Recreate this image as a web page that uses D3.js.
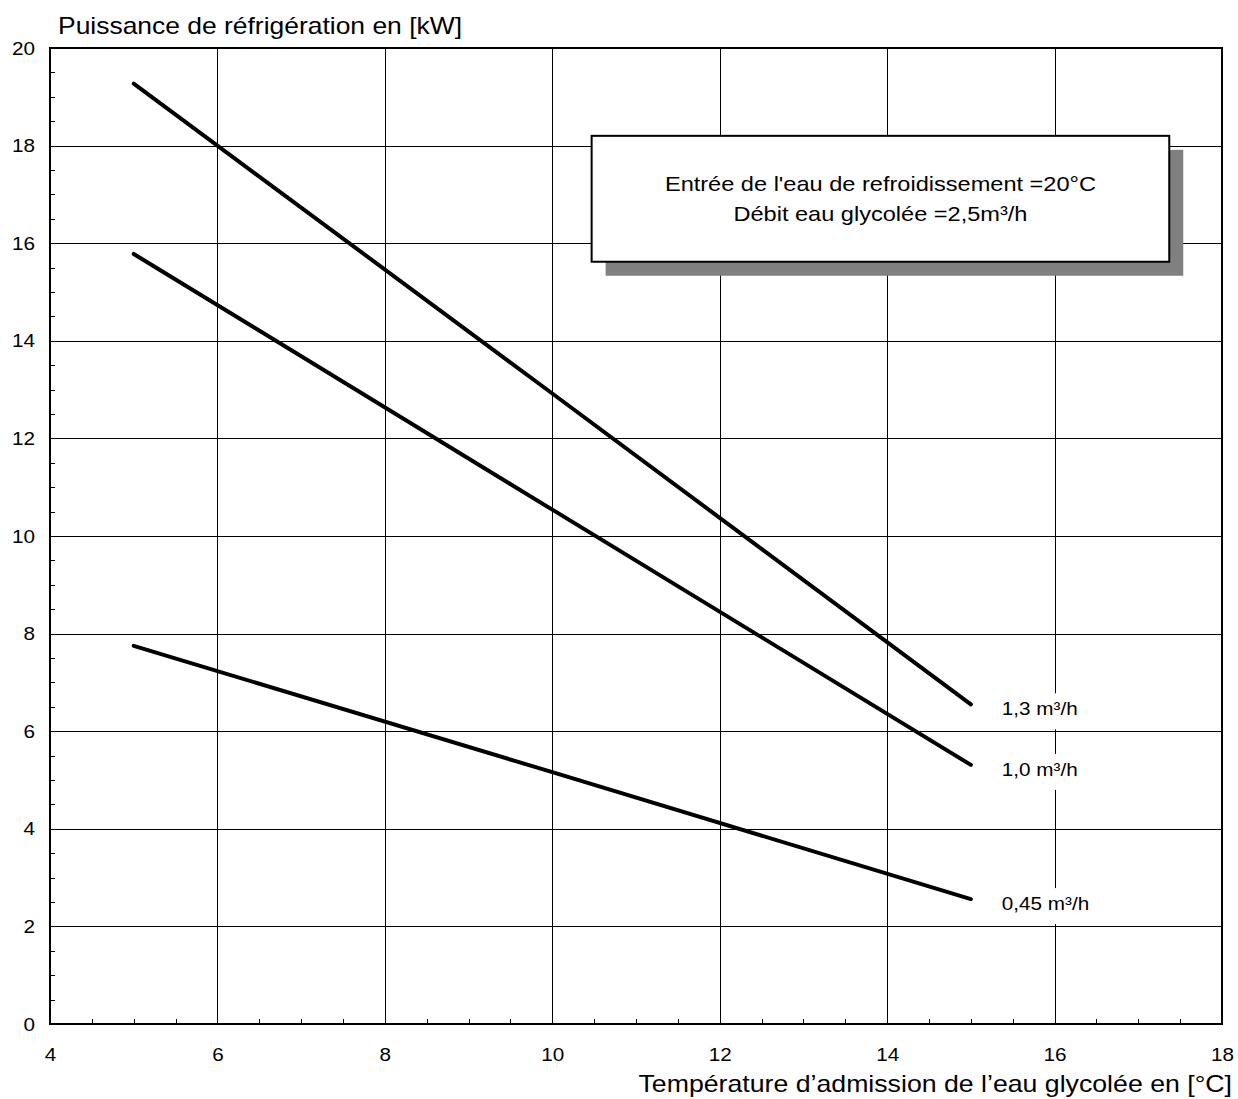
<!DOCTYPE html>
<html>
<head>
<meta charset="utf-8">
<script src="https://cdn.jsdelivr.net/npm/d3@7"></script>
<style>
  body { margin: 0; background: #fff; }
  svg { font-family: "Liberation Sans", Arial, sans-serif; }
</style>
</head>
<body>
<div id="chart"></div>
<script>
// inlet temperature of the glycol water [°C]
const temps = [5, 10, 15];
// cooling power [kW] per flow rate
const flowLabels = ["1,3 m³/h", "1,0 m³/h", "0,45 m³/h"];
const power13 = [19.27, 12.92, 6.55];
const power10 = [15.78, 10.54, 5.31];
const power045 = [7.75, 5.16, 2.56];
const xTicks = [4, 6, 8, 10, 12, 14, 16, 18];
const yTicks = [0, 2, 4, 6, 8, 10, 12, 14, 16, 18, 20];
const noteLines = ["Entrée de l'eau de refroidissement =20°C", "Débit eau glycolée =2,5m³/h"];

const W = 1238, H = 1099;
const margin = { top: 48, right: 16, bottom: 75, left: 50 };
const width = W - margin.left - margin.right;
const height = H - margin.top - margin.bottom;
const sx = 1.15; // text in the original is a bit wide

const svg = d3.select("#chart").append("svg")
    .attr("width", W)
    .attr("height", H);

const g = svg.append("g")
    .attr("transform", `translate(${margin.left},${margin.top})`);

const x = d3.scaleLinear().domain([4, 18]).range([0, width]);
const y = d3.scaleLinear().domain([0, 20]).range([height, 0]);

function wideText(parent, px, py, txt, size, anchor) {
    return parent.append("text")
        .attr("transform", `translate(${px},${py}) scale(${sx},1)`)
        .attr("text-anchor", anchor || "start")
        .attr("font-size", size)
        .attr("fill", "#000")
        .text(txt);
}

// grid
g.selectAll(".vgrid").data(xTicks.slice(1, -1)).enter()
    .append("line")
    .attr("x1", d => Math.round(x(d)) + 0.5).attr("x2", d => Math.round(x(d)) + 0.5)
    .attr("y1", 0).attr("y2", height)
    .attr("stroke", "#000").attr("stroke-width", 1);

g.selectAll(".hgrid").data(yTicks.slice(1, -1)).enter()
    .append("line")
    .attr("y1", d => Math.round(y(d)) + 0.5).attr("y2", d => Math.round(y(d)) + 0.5)
    .attr("x1", 0).attr("x2", width)
    .attr("stroke", "#000").attr("stroke-width", 1);

// minor ticks (inside)
const xMinor = d3.range(4.5, 18, 0.5).filter(d => d % 2 !== 0);
g.selectAll(".xminor").data(xMinor).enter()
    .append("line")
    .attr("x1", d => Math.round(x(d)) + 0.5).attr("x2", d => Math.round(x(d)) + 0.5)
    .attr("y1", height).attr("y2", height - 5)
    .attr("stroke", "#000");

const yMinor = d3.range(0.5, 20, 0.5).filter(d => d % 2 !== 0);
g.selectAll(".yminor").data(yMinor).enter()
    .append("line")
    .attr("y1", d => Math.round(y(d)) + 0.5).attr("y2", d => Math.round(y(d)) + 0.5)
    .attr("x1", 0).attr("x2", 5)
    .attr("stroke", "#000");

// tick labels
g.append("g")
    .attr("transform", `translate(0,${height})`)
    .call(d3.axisBottom(x).tickValues(xTicks).tickSize(0).tickPadding(0))
    .call(a => a.select(".domain").remove())
    .selectAll("text")
    .attr("y", 37).attr("dy", 0)
    .attr("transform", `scale(${sx},1)`)
    .attr("font-size", 18).attr("font-family", "Liberation Sans, Arial, sans-serif").attr("fill", "#000");

g.append("g")
    .call(d3.axisLeft(y).tickValues(yTicks).tickSize(0).tickPadding(0))
    .call(a => a.select(".domain").remove())
    .selectAll("text")
    .attr("x", -15 / sx).attr("dy", "0.34em")
    .attr("transform", `scale(${sx},1)`)
    .attr("font-size", 18).attr("font-family", "Liberation Sans, Arial, sans-serif").attr("fill", "#000");

// frame
g.append("rect")
    .attr("x", 0).attr("y", 0).attr("width", width).attr("height", height)
    .attr("fill", "none").attr("stroke", "#000").attr("stroke-width", 2);

// note box with shadow
const bx = x(10.47), by = y(18.2), bw = x(17.37) - x(10.47), bh = y(15.62) - y(18.2);
g.append("rect")
    .attr("x", bx + 14).attr("y", by + 14).attr("width", bw).attr("height", bh)
    .attr("fill", "#808080");
g.append("rect")
    .attr("x", bx).attr("y", by).attr("width", bw).attr("height", bh)
    .attr("fill", "#fff").attr("stroke", "#000").attr("stroke-width", 2);
noteLines.forEach((t, i) => {
    wideText(g, bx + bw / 2, by + 55 + i * 30, t, 20.5, "middle");
});

// curves
const series = [power13, power10, power045];
const line = d3.line()
    .x((d, i) => x(temps[i]))
    .y(d => y(d));

g.selectAll(".curve").data(series).enter()
    .append("path")
    .attr("d", d => line(d))
    .attr("fill", "none")
    .attr("stroke", "#000")
    .attr("stroke-width", 4)
    .attr("stroke-linecap", "round");

// curve labels with white backing
series.forEach((s, i) => {
    const lg = g.append("g")
        .attr("transform", `translate(${x(15) + 31},${y(s[s.length - 1]) + 11})`);
    lg.append("rect")
        .attr("x", -8).attr("y", -22).attr("width", 100).attr("height", 36)
        .attr("fill", "#fff");
    wideText(lg, 0, 0, flowLabels[i], 18);
});

// titles
wideText(svg, 58, 34, "Puissance de réfrigération en [kW]", 23);
wideText(svg, 1232, 1092, "Température d’admission de l’eau glycolée en [°C]", 23.2, "end");
</script>
</body>
</html>
